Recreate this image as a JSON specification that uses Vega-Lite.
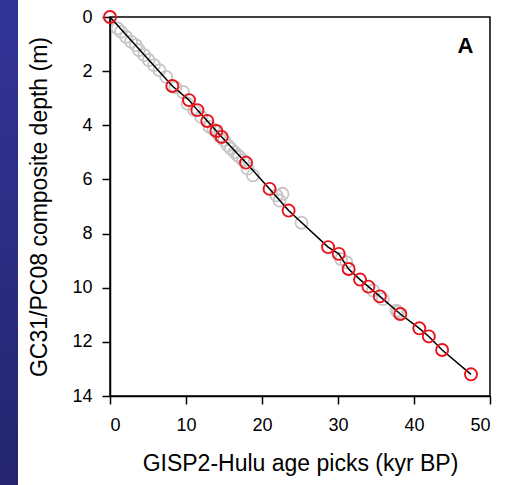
{
  "$schema": "https://vega.github.io/schema/vega-lite/v6.json",
  "padding": 0,
  "background": "white",
  "bounds": "flush",
  "spacing": 92,
  "datasets": {
    "red": [
      {"age": 0, "depth": 0}, {"age": 8.2, "depth": 2.55}, {"age": 10.4, "depth": 3.07},
      {"age": 11.5, "depth": 3.44}, {"age": 12.8, "depth": 3.84}, {"age": 14.0, "depth": 4.21},
      {"age": 14.7, "depth": 4.43}, {"age": 17.9, "depth": 5.38}, {"age": 21.0, "depth": 6.35},
      {"age": 23.5, "depth": 7.15}, {"age": 28.7, "depth": 8.5}, {"age": 30.1, "depth": 8.75},
      {"age": 31.4, "depth": 9.31}, {"age": 32.9, "depth": 9.7}, {"age": 34.0, "depth": 9.96},
      {"age": 35.5, "depth": 10.32}, {"age": 38.2, "depth": 10.97}, {"age": 40.7, "depth": 11.5},
      {"age": 41.95, "depth": 11.8}, {"age": 43.7, "depth": 12.3}, {"age": 47.5, "depth": 13.2}
    ],
    "grey": [
      {"age": 1.0, "depth": 0.42}, {"age": 1.45, "depth": 0.54}, {"age": 2.1, "depth": 0.73},
      {"age": 2.77, "depth": 0.91}, {"age": 3.4, "depth": 1.04}, {"age": 3.8, "depth": 1.22},
      {"age": 4.5, "depth": 1.41}, {"age": 5.1, "depth": 1.59}, {"age": 5.8, "depth": 1.78},
      {"age": 6.5, "depth": 1.96}, {"age": 7.4, "depth": 2.21}, {"age": 8.6, "depth": 2.6},
      {"age": 9.6, "depth": 2.77}, {"age": 10.2, "depth": 3.2}, {"age": 11.1, "depth": 3.44},
      {"age": 12.0, "depth": 3.69}, {"age": 13.1, "depth": 4.06}, {"age": 13.6, "depth": 4.15},
      {"age": 14.4, "depth": 4.4}, {"age": 15.0, "depth": 4.56}, {"age": 15.5, "depth": 4.74},
      {"age": 15.9, "depth": 4.86}, {"age": 16.4, "depth": 4.99}, {"age": 16.8, "depth": 5.11},
      {"age": 17.0, "depth": 5.17}, {"age": 17.5, "depth": 5.3}, {"age": 18.1, "depth": 5.6},
      {"age": 18.8, "depth": 5.85}, {"age": 21.9, "depth": 6.59}, {"age": 22.3, "depth": 6.78},
      {"age": 22.7, "depth": 6.53}, {"age": 25.2, "depth": 7.6}, {"age": 30.4, "depth": 8.94},
      {"age": 31.1, "depth": 9.06}, {"age": 34.6, "depth": 10.1}, {"age": 35.9, "depth": 10.42},
      {"age": 37.7, "depth": 10.85}, {"age": 37.9, "depth": 10.9}
    ]
  },
  "hconcat": [
    {
      "width": 18,
      "height": 485,
      "data": {"values": [{}]},
      "mark": {
        "type": "rect",
        "color": {
          "gradient": "linear", "x1": 0, "y1": 0, "x2": 0, "y2": 1,
          "stops": [{"offset": 0, "color": "#323498"}, {"offset": 1, "color": "#24256e"}]
        }
      },
      "encoding": {}
    },
    {
      "bounds": "flush",
      "spacing": 16,
      "vconcat": [
        {
          "width": 380,
          "height": 1,
          "data": {"values": []},
          "mark": "point",
          "encoding": {}
        },
        {
          "width": 380,
          "height": 379,
          "view": {"stroke": "black", "strokeWidth": 1.5},
          "layer": [
            {
              "data": {"name": "grey"},
              "mark": {"type": "point", "shape": "circle", "size": 145, "stroke": "#c6c6c6", "strokeWidth": 1.8, "filled": false, "opacity": 1},
              "encoding": {
                "x": {"field": "age", "type": "quantitative", "scale": {"domain": [0, 50], "nice": false},
                      "axis": {"values": [0, 10, 20, 30, 40, 50], "title": "GISP2-Hulu age picks (kyr BP)"}},
                "y": {"field": "depth", "type": "quantitative", "scale": {"domain": [0, 14], "reverse": true, "nice": false},
                      "axis": {"values": [0, 2, 4, 6, 8, 10, 12, 14], "title": "GC31/PC08 composite depth (m)"}}
              }
            },
            {
              "data": {"name": "red"},
              "mark": {"type": "line", "color": "black", "strokeWidth": 1.5},
              "encoding": {
                "x": {"field": "age", "type": "quantitative"},
                "y": {"field": "depth", "type": "quantitative"}
              }
            },
            {
              "data": {"name": "red"},
              "mark": {"type": "point", "shape": "circle", "size": 145, "stroke": "#e8141c", "strokeWidth": 1.9, "filled": false, "opacity": 1},
              "encoding": {
                "x": {"field": "age", "type": "quantitative"},
                "y": {"field": "depth", "type": "quantitative"}
              }
            },
            {
              "data": {"values": [{}]},
              "mark": {"type": "text", "font": "Liberation Sans", "fontWeight": "bold", "fontSize": 22, "align": "right", "baseline": "alphabetic", "color": "black"},
              "encoding": {
                "x": {"datum": 47.8, "type": "quantitative"},
                "y": {"datum": 1.33, "type": "quantitative"},
                "text": {"value": "A"}
              }
            }
          ]
        }
      ]
    }
  ],
  "config": {
    "view": {"stroke": null},
    "axis": {
      "grid": false,
      "labelFont": "Liberation Sans",
      "labelFontSize": 18,
      "labelColor": "black",
      "titleFont": "Liberation Sans",
      "titleFontSize": 23,
      "titleFontWeight": "normal",
      "titleColor": "black",
      "domainColor": "black",
      "domainWidth": 1.5,
      "tickColor": "black",
      "tickWidth": 1.5,
      "tickSize": 8
    },
    "axisX": {"labelPadding": 12, "titlePadding": 18},
    "axisY": {"labelPadding": 10, "titlePadding": 20}
  }
}
